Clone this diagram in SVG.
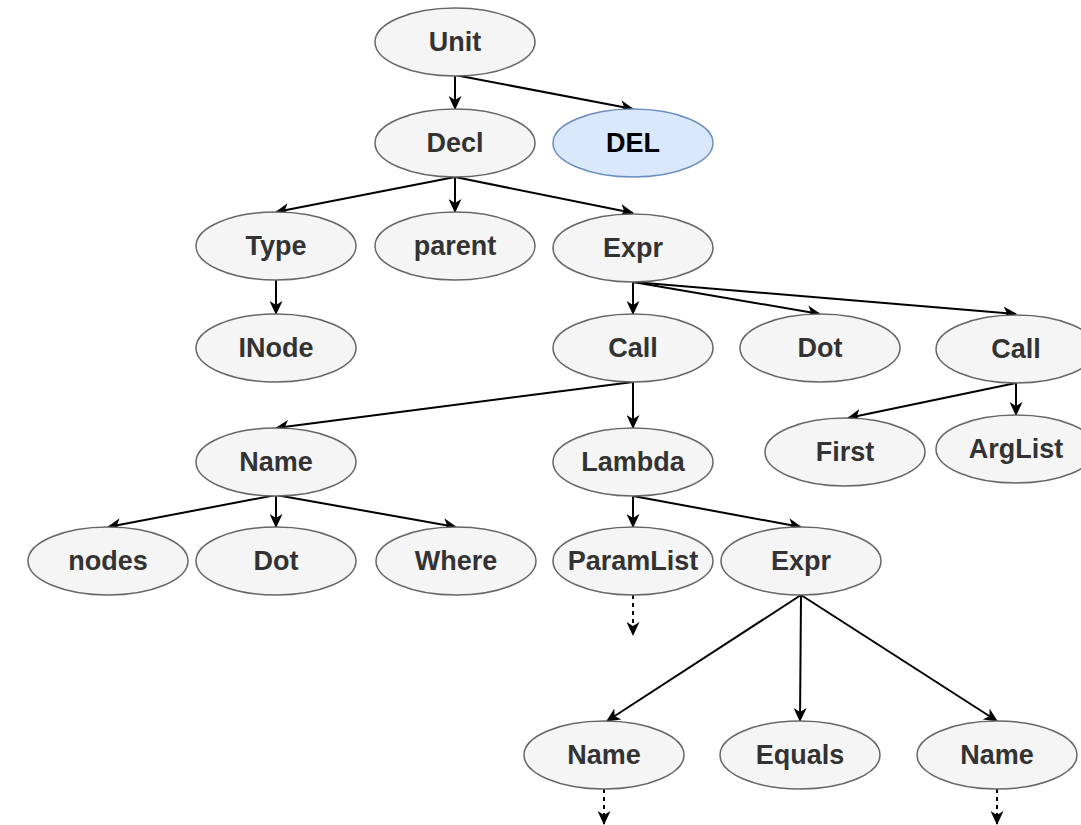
<svg xmlns="http://www.w3.org/2000/svg" width="1081" height="825" viewBox="0 0 1081 825">
<defs>
<marker id="arr" viewBox="0 0 14 13" refX="13" refY="6.5" markerWidth="14" markerHeight="13" markerUnits="userSpaceOnUse" orient="auto">
<path d="M0,0 L14,6.5 L0,13 L4,6.5 Z" fill="#000"/>
</marker>
<style>
.n ellipse{fill:#f5f5f5;stroke:#666666;stroke-width:1.5}
.n text{font-family:"Liberation Sans",Arial,sans-serif;font-weight:bold;font-size:27px;fill:#333333;text-anchor:middle;dominant-baseline:central}
.b ellipse{fill:#dae8fc;stroke:#6c8ebf}
.b text{fill:#000000}
#edges path{fill:none;stroke:#000;stroke-width:2;marker-end:url(#arr)}
#edges .d{stroke-dasharray:4 4}
</style>
</defs>
<rect width="1081" height="825" fill="#ffffff"/>
<g id="edges">
<path d="M455,75 L455,109"/>
<path d="M455,75 L633,109"/>
<path d="M455,177 L276,212"/>
<path d="M455,177 L455,212"/>
<path d="M455,177 L633,213"/>
<path d="M276,280 L276,314"/>
<path d="M633,282 L633,314"/>
<path d="M633,282 L820,314"/>
<path d="M633,282 L1016,314"/>
<path d="M633,382 L276,428"/>
<path d="M633,382 L633,428"/>
<path d="M1016,383 L848,418"/>
<path d="M1016,383 L1016,415"/>
<path d="M276,495 L108,527"/>
<path d="M276,495 L276,527"/>
<path d="M276,495 L456,527"/>
<path d="M633,496 L633,527"/>
<path d="M633,496 L801,527"/>
<path class="d" d="M633,595 L633,635"/>
<path d="M801,595 L607,721"/>
<path d="M801,595 L800,721"/>
<path d="M801,595 L997,721"/>
<path class="d" d="M604,789 L604,824"/>
<path class="d" d="M997,789 L997,824"/>
</g>
<g id="n-unit" class="n"><ellipse cx="455" cy="42" rx="80" ry="34"/><text x="455" y="42">Unit</text></g>
<g id="n-decl" class="n"><ellipse cx="455" cy="143" rx="80" ry="34"/><text x="455" y="143">Decl</text></g>
<g id="n-del" class="n b"><ellipse cx="633" cy="143" rx="80" ry="34"/><text x="633" y="143">DEL</text></g>
<g id="n-type" class="n"><ellipse cx="276" cy="246" rx="80" ry="34"/><text x="276" y="246">Type</text></g>
<g id="n-parent" class="n"><ellipse cx="455" cy="246" rx="80" ry="34"/><text x="455" y="246">parent</text></g>
<g id="n-expr1" class="n"><ellipse cx="633" cy="248" rx="80" ry="34"/><text x="633" y="248">Expr</text></g>
<g id="n-inode" class="n"><ellipse cx="276" cy="348" rx="80" ry="34"/><text x="276" y="348">INode</text></g>
<g id="n-call1" class="n"><ellipse cx="633" cy="348" rx="80" ry="34"/><text x="633" y="348">Call</text></g>
<g id="n-dot1" class="n"><ellipse cx="820" cy="348" rx="80" ry="34"/><text x="820" y="348">Dot</text></g>
<g id="n-call2" class="n"><ellipse cx="1016" cy="349" rx="80" ry="34"/><text x="1016" y="349">Call</text></g>
<g id="n-first" class="n"><ellipse cx="845" cy="452" rx="80" ry="34"/><text x="845" y="452">First</text></g>
<g id="n-arglist" class="n"><ellipse cx="1016" cy="449" rx="80" ry="34"/><text x="1016" y="449">ArgList</text></g>
<g id="n-name1" class="n"><ellipse cx="276" cy="462" rx="80" ry="34"/><text x="276" y="462">Name</text></g>
<g id="n-lambda" class="n"><ellipse cx="633" cy="462" rx="80" ry="34"/><text x="633" y="462">Lambda</text></g>
<g id="n-nodes" class="n"><ellipse cx="108" cy="561" rx="80" ry="34"/><text x="108" y="561">nodes</text></g>
<g id="n-dot2" class="n"><ellipse cx="276" cy="561" rx="80" ry="34"/><text x="276" y="561">Dot</text></g>
<g id="n-where" class="n"><ellipse cx="456" cy="561" rx="80" ry="34"/><text x="456" y="561">Where</text></g>
<g id="n-paramlist" class="n"><ellipse cx="633" cy="561" rx="80" ry="34"/><text x="633" y="561">ParamList</text></g>
<g id="n-expr2" class="n"><ellipse cx="801" cy="561" rx="80" ry="34"/><text x="801" y="561">Expr</text></g>
<g id="n-name2" class="n"><ellipse cx="604" cy="755" rx="80" ry="34"/><text x="604" y="755">Name</text></g>
<g id="n-equals" class="n"><ellipse cx="800" cy="755" rx="80" ry="34"/><text x="800" y="755">Equals</text></g>
<g id="n-name3" class="n"><ellipse cx="997" cy="755" rx="80" ry="34"/><text x="997" y="755">Name</text></g>
</svg>
